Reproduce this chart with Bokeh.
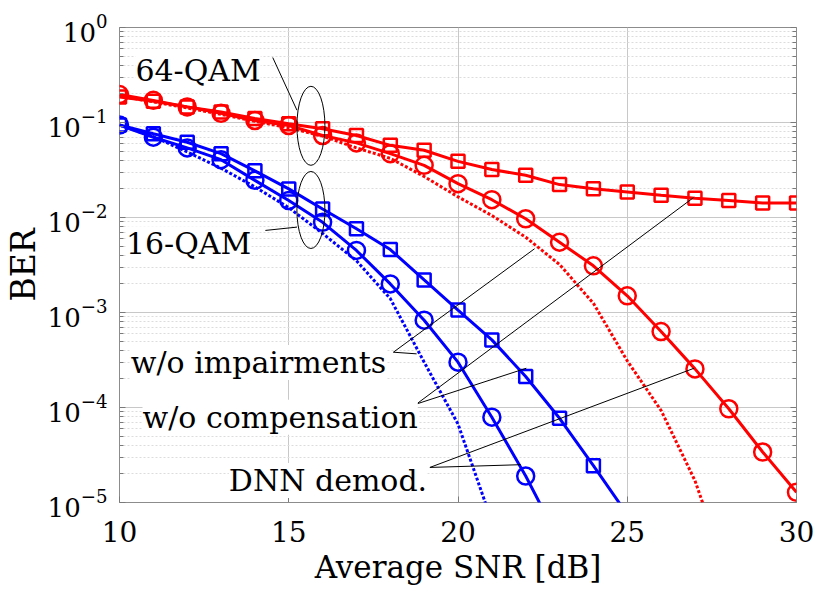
from bokeh.plotting import figure
from bokeh.models import FixedTicker, LogAxis, Label, CustomJSTickFormatter, LogTickFormatter
from bokeh.embed import file_html
from bokeh.resources import INLINE

FONT = "DejaVu Serif"
RED = "#ff0000"
BLUE = "#0000ff"

# ---------------- data ----------------
snr = list(range(10, 31))
qam64_wo_comp = [0.186, 0.167, 0.146, 0.129, 0.110, 0.097, 0.086, 0.073, 0.0575, 0.051,
                 0.039, 0.032, 0.0278, 0.0222, 0.0201, 0.0186, 0.0171, 0.0159, 0.0151,
                 0.0142, 0.0142]
qam64_dnn = [0.197, 0.171, 0.146, 0.125, 0.105, 0.093, 0.073, 0.061, 0.047, 0.0354,
             0.0227, 0.0154, 0.0097, 0.0055, 0.0031, 0.00150, 6.3e-4, 2.55e-4, 9.7e-5,
             3.4e-5, 1.28e-5]
snr_64_wo_imp = list(range(10, 29))
qam64_wo_imp = [0.19, 0.165, 0.142, 0.122, 0.103, 0.088, 0.072, 0.054, 0.042, 0.027,
                0.0165, 0.0105, 0.0062, 0.0032, 0.00125, 3.1e-4, 9.3e-5, 1.7e-5, 1.6e-6]

snr_16_wo_comp = list(range(10, 26))
qam16_wo_comp = [0.094, 0.076, 0.062, 0.047, 0.031, 0.020, 0.0123, 0.0076, 0.0046,
                 0.0022, 0.00106, 5.15e-4, 2.12e-4, 7.7e-5, 2.44e-5, 7.5e-6]
snr_16_dnn = list(range(10, 24))
qam16_dnn = [0.094, 0.070, 0.054, 0.0406, 0.0246, 0.0151, 0.0089, 0.0045, 0.0020,
             8.3e-4, 3.0e-4, 7.9e-5, 1.9e-5, 3.9e-6]
snr_16_wo_imp = list(range(10, 22))
qam16_wo_imp = [0.094, 0.071, 0.049, 0.033, 0.021, 0.0127, 0.0068, 0.0035, 0.0014,
                3.0e-4, 6.7e-5, 6.3e-6]

x_ticks = [10, 15, 20, 25, 30]
y_exponents = [0, -1, -2, -3, -4, -5]

# annotations (data coordinates)
group_labels = ["64-QAM", "16-QAM"]
group_label_x = [10.47, 10.19]
group_label_y = [0.355, 0.0053]
ellipse_x = [15.655, 15.655]
ellipse_y = [0.0923, 0.0120]
ellipse_w = [28, 28]
ellipse_h = [79, 77]
group_lead_x0 = [14.527, 14.309]
group_lead_y0 = [0.483, 0.00731]
group_lead_x1 = [15.243, 15.243]
group_lead_y1 = [0.1345, 0.00792]

curve_labels = ["w/o impairments", "w/o compensation", "DNN demod."]
curve_label_x = [10.333, 10.68, 13.23]
curve_label_y = [2.97e-4, 7.88e-5, 1.70e-5]
apex_x = [18.091, 18.778, 19.17]
apex_y = [3.82e-4, 1.09e-4, 2.34e-5]
lead16_x = [18.778, 22.018, 21.85]
lead16_y = [3.67e-4, 2.59e-4, 2.5e-5]
lead64_x = [22.262, 26.957, 26.975]
lead64_y = [4.69e-3, 0.0162, 2.59e-4]

# ---------------- figure ----------------
p = figure(width=814, height=596, x_range=(10, 30), y_range=(1e-5, 1),
           y_axis_type="log", output_backend="svg", toolbar_location=None,
           min_border_left=117, min_border_right=18, min_border_top=27,
           min_border_bottom=94)
p.background_fill_color = "white"
p.border_fill_color = "white"
p.outline_line_color = "#8c8c8c"
p.outline_line_width = 1

yticker = FixedTicker(ticks=[10.0 ** e for e in y_exponents],
                      minor_ticks=[m * 10.0 ** e for e in range(-5, 0) for m in range(2, 10)])
xticker = FixedTicker(ticks=x_ticks, minor_ticks=[])

p.xaxis.ticker = xticker
p.yaxis.ticker = yticker
p.yaxis.formatter = LogTickFormatter()

for ax in (p.xaxis[0], p.yaxis[0]):
    ax.axis_line_color = None
    ax.major_tick_in = 6
    ax.major_tick_out = 0
    ax.minor_tick_in = 4
    ax.minor_tick_out = 0
    ax.major_tick_line_color = "#7a7a7a"
    ax.minor_tick_line_color = "#7a7a7a"
    ax.axis_label_text_font = FONT
    ax.axis_label_text_font_style = "normal"
    ax.axis_label_text_color = "black"
    ax.major_label_text_font = FONT
    ax.major_label_text_color = "black"

p.xaxis.axis_label = "Average SNR [dB]"
p.xaxis.axis_label_text_font_size = "31px"
p.xaxis.major_label_text_font_size = "28px"
p.xaxis.major_label_standoff = 18
p.xaxis.axis_label_standoff = 4

p.yaxis.axis_label = "BER"
p.yaxis.axis_label_text_font_size = "33px"
p.yaxis.major_label_text_font_size = "26px"
p.yaxis.major_label_standoff = 12
p.yaxis.axis_label_standoff = 2

empty = CustomJSTickFormatter(code="return ''")
right = LogAxis(ticker=yticker, formatter=empty, axis_line_color=None,
                major_tick_in=6, major_tick_out=0, minor_tick_in=4, minor_tick_out=0,
                major_tick_line_color="#7a7a7a", minor_tick_line_color="#7a7a7a",
                major_label_standoff=0)
p.add_layout(right, "right")

p.xgrid.grid_line_color = "#c8c8c8"
p.ygrid.grid_line_color = "#c8c8c8"
p.ygrid.minor_grid_line_color = "#dcdcdc"
p.ygrid.minor_grid_line_dash = "2 2"

# ---------------- curves ----------------
p.line(snr_64_wo_imp, qam64_wo_imp, line_color=RED, line_width=3, line_dash="3 2")
p.line(snr, qam64_wo_comp, line_color=RED, line_width=3)
p.scatter(snr, qam64_wo_comp, marker="square", size=13, line_color=RED, line_width=2.5,
          fill_color=None)
p.line(snr, qam64_dnn, line_color=RED, line_width=3)
p.scatter(snr, qam64_dnn, marker="circle", size=17, line_color=RED, line_width=2.5,
          fill_color=None)

p.line(snr_16_wo_imp, qam16_wo_imp, line_color=BLUE, line_width=3, line_dash="3 2")
p.line(snr_16_wo_comp, qam16_wo_comp, line_color=BLUE, line_width=3)
p.scatter(snr_16_wo_comp, qam16_wo_comp, marker="square", size=13, line_color=BLUE,
          line_width=2.5, fill_color=None)
p.line(snr_16_dnn, qam16_dnn, line_color=BLUE, line_width=3)
p.scatter(snr_16_dnn, qam16_dnn, marker="circle", size=17, line_color=BLUE,
          line_width=2.5, fill_color=None)

# ---------------- annotations ----------------
p.ellipse(x=ellipse_x, y=ellipse_y, width=ellipse_w, height=ellipse_h,
          width_units="screen", height_units="screen", fill_color=None,
          line_color="black", line_width=1)
p.segment(x0=group_lead_x0, y0=group_lead_y0, x1=group_lead_x1, y1=group_lead_y1,
          line_color="black", line_width=1)
p.segment(x0=apex_x, y0=apex_y, x1=lead16_x, y1=lead16_y, line_color="black", line_width=1)
p.segment(x0=apex_x, y0=apex_y, x1=lead64_x, y1=lead64_y, line_color="black", line_width=1)

for t, x, y in zip(group_labels + curve_labels, group_label_x + curve_label_x,
                   group_label_y + curve_label_y):
    p.add_layout(Label(x=x, y=y, text=t, text_font=FONT, text_font_size="30px",
                       text_align="left", text_baseline="alphabetic",
                       text_color="black", background_fill_color="white"))

open("out.html", "w").write(file_html(p, INLINE))
